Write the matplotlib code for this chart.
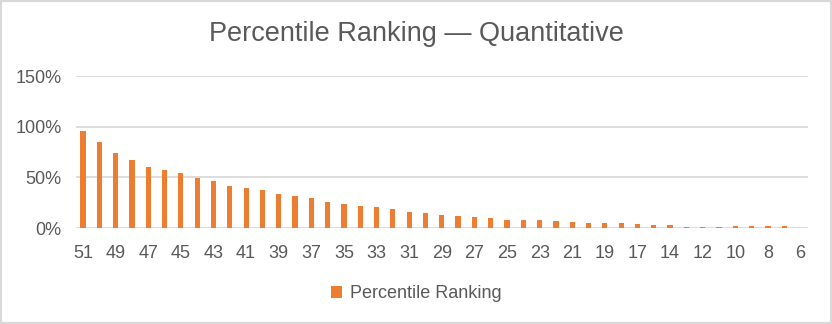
import numpy as np
import matplotlib.pyplot as plt
from matplotlib.patches import Rectangle

# Quantitative scaled scores and their percentile ranking (%)
scores = [51, 50, 49, 48, 47, 46, 45, 44, 43, 42, 41, 40, 39, 38, 37,
          36, 35, 34, 33, 32, 31, 30, 29, 28, 27, 26, 25, 24, 23, 22,
          21, 20, 19, 18, 17, 16, 14, 13, 12, 11, 10, 9, 8, 7, 6]
percentile = [96, 85, 74, 67, 60, 57, 54, 49, 46, 42, 40, 38, 34, 32, 30,
              26, 24, 22, 21, 19, 16, 15, 13, 12, 11, 10, 8, 8, 7.5, 7,
              6, 5, 5, 5, 3.7, 2.7, 2.7, 1.3, 1.3, 1.3, 2.3, 2.3, 2.3, 2.3, 0]
yticks = [0, 50, 100, 150]

orange = '#ED7D31'
grey_txt = '#595959'
grid_c = '#D9D9D9'

plt.rcParams['font.family'] = ['Liberation Sans', 'DejaVu Sans']

fig = plt.figure(figsize=(8.32, 3.24), dpi=100)
ax = fig.add_axes([0.091, 0.296, 0.880, 0.469])

x = np.arange(len(scores))
ax.bar(x, percentile, width=0.32, color=orange, zorder=3, label='Percentile Ranking')

ax.set_ylim(0, 150)
ax.set_yticks(yticks)
ax.set_yticklabels(['%d%%' % v for v in yticks])
ax.set_xlim(-0.45, len(scores) - 0.55)
ax.set_xticks(x[::2])
ax.set_xticklabels([str(s) for s in scores[::2]])

ax.grid(axis='y', color=grid_c, linewidth=1.3, zorder=0)
for s in ax.spines.values():
    s.set_visible(False)
ax.tick_params(length=0, labelsize=13, colors=grey_txt)
ax.tick_params(axis='x', pad=12)
ax.tick_params(axis='y', pad=10)

fig.suptitle('Percentile Ranking \u2014 Quantitative', y=0.935, fontsize=19.5,
             color=grey_txt)

leg = fig.legend(loc='center', bbox_to_anchor=(0.5, 0.093), frameon=False,
                 fontsize=13, handlelength=0.65, handleheight=0.65,
                 handletextpad=0.4)
for t in leg.get_texts():
    t.set_color(grey_txt)

# thin light border round the whole chart
fig.patches.append(Rectangle((0, 0), 1, 1, transform=fig.transFigure,
                             fill=False, edgecolor=grid_c, linewidth=3))

fig.savefig('out.png', dpi=100)
